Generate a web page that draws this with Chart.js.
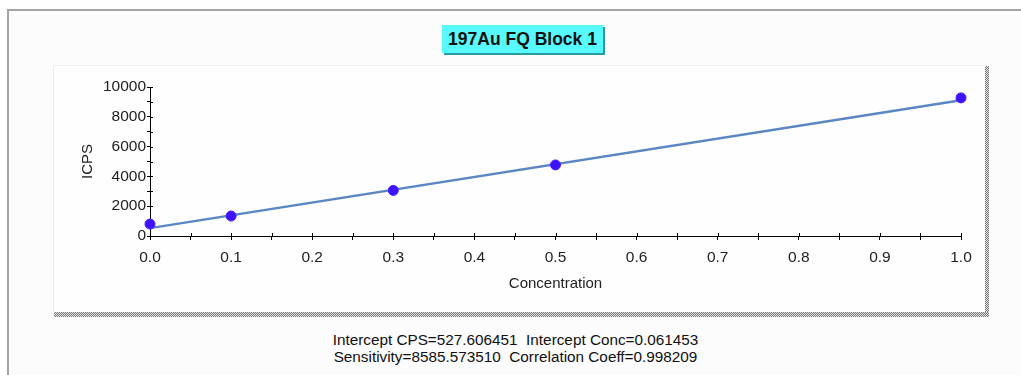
<!DOCTYPE html>
<html>
<head>
<meta charset="utf-8">
<script src="https://cdn.jsdelivr.net/npm/chart.js@4.4.1/dist/chart.umd.min.js"></script>
<style>
  html, body { margin:0; padding:0; background:#ffffff; width:1021px; height:375px; overflow:hidden; font-family:"Liberation Sans", Arial, sans-serif; }
  #outer { position:absolute; left:7px; top:9px; width:1030px; height:400px; background:#fcfcfc;
           border-left:2px solid #a4a4a4; border-top:2px solid #a4a4a4; box-sizing:border-box; }
  #inner { position:absolute; left:53px; top:65px; width:932px; height:247px; background:#fefefe;
           border-top:1px solid #ececec; border-left:1px solid #ececec; box-sizing:border-box; }
  .dots { position:absolute; background-color:#ddd;
          background-image:repeating-conic-gradient(#7a7a7a 0 25%, #e0e0e0 0 50%); background-size:2px 2px; }
  #titlebox { position:absolute; left:442px; top:25px; width:161px; height:28px; background:#58fbfd;
              box-shadow:2px 2px 0 #2a9a9c; font-weight:bold; font-size:17.5px; line-height:28px; text-align:center; color:#111; }
  #stats { position:absolute; left:0; width:1031px; top:331px; text-align:center; font-size:15.3px; line-height:17px; color:#111; }
  canvas { position:absolute; left:0; top:0; }
</style>
</head>
<body>
<div id="outer"></div>
<div id="inner"></div>
<div class="dots" style="left:985px; top:66px; width:4px; height:251px;"></div>
<div class="dots" style="left:54px; top:312px; width:935px; height:5px;"></div>
<div id="titlebox">197Au FQ Block 1</div>
<div id="stats">Intercept CPS=527.606451&nbsp;&nbsp;Intercept Conc=0.061453<br>Sensitivity=8585.573510&nbsp;&nbsp;Correlation Coeff=0.998209</div>
<canvas id="c" width="1021" height="375"></canvas>
<script>
// ---- data ----
const concentrations = [0.0, 0.1, 0.3, 0.5, 1.0];
const icps = [800, 1340, 3060, 4770, 9270];
const fitConc = [0.0, 1.0];
const fitIcps = [528, 9113];
const xTickLabels = ['0.0','0.1','0.2','0.3','0.4','0.5','0.6','0.7','0.8','0.9','1.0'];
const yTickLabels = ['0','2000','4000','6000','8000','10000'];
const chartTitle = '197Au FQ Block 1';
const xTitle = 'Concentration';
const yTitle = 'ICPS';

const FONT = '"Liberation Sans", Arial, sans-serif';

const innerTicks = {
  id: 'innerTicks',
  beforeDatasetsDraw(chart) {
    const ctx = chart.ctx, xs = chart.scales.x, ys = chart.scales.y;
    ctx.save();
    ctx.strokeStyle = '#000'; ctx.lineWidth = 1;
    ctx.beginPath();
    xs.ticks.forEach(t => { const px = Math.round(xs.getPixelForValue(t.value)) + 0.5;
      ctx.moveTo(px, ys.bottom); ctx.lineTo(px, ys.bottom - 3); });
    ys.ticks.forEach(t => { const py = Math.round(ys.getPixelForValue(t.value)) + 0.5;
      ctx.moveTo(xs.left, py); ctx.lineTo(xs.left + 3, py); });
    ctx.stroke();
    ctx.restore();
  }
};

new Chart(document.getElementById('c'), {
  type: 'scatter',
  data: {
    datasets: [
      {
        type: 'line',
        data: fitConc.map((x, i) => ({x, y: fitIcps[i]})),
        borderColor: '#5a86c4', borderWidth: 2.5, pointRadius: 0, fill: false, clip: false, order: 2
      },
      {
        data: concentrations.map((x, i) => ({x, y: icps[i]})),
        backgroundColor: '#3f12ff', borderColor: '#4a1cff', borderWidth: 1,
        pointRadius: 5, pointStyle: 'circle', clip: false, order: 1
      }
    ]
  },
  options: {
    responsive: false, animation: false, devicePixelRatio: 1,
    layout: { padding: { left: 70, right: 60, top: 87, bottom: 79 } },
    plugins: { legend: { display: false }, tooltip: { enabled: false }, title: { display: false } },
    scales: {
      x: {
        type: 'linear', min: 0, max: 1,
        afterFit(s) { s.height = 60; },
        border: { display: true, color: '#000', width: 1 },
        grid: { display: true, drawOnChartArea: false, drawTicks: true, tickLength: 4, color: '#000' },
        ticks: {
          stepSize: 0.05, padding: 8, color: '#222', font: { family: FONT, size: 15.5 }, maxRotation: 0, autoSkip: false,
          callback(v) { const k = Math.round(v * 100); return k % 10 === 0 ? xTickLabels[k / 10] : ''; }
        },
        title: { display: true, text: xTitle, color: '#222', font: { family: FONT, size: 15 }, padding: { top: 0, bottom: 3 } }
      },
      y: {
        type: 'linear', min: 0, max: 10000,
        afterFit(s) { s.width = 80; },
        border: { display: true, color: '#000', width: 1 },
        grid: { display: true, drawOnChartArea: false, drawTicks: true, tickLength: 3, color: '#000' },
        ticks: {
          stepSize: 1000, padding: 1, color: '#222', font: { family: FONT, size: 15.5 }, autoSkip: false,
          callback(v) { const k = Math.round(v / 1000); return k % 2 === 0 ? yTickLabels[k / 2] : ''; }
        },
        title: { display: true, text: yTitle, color: '#222', font: { family: FONT, size: 15 }, padding: { top: 9, bottom: 0 } }
      }
    }
  },
  plugins: [innerTicks]
});
</script>
</body>
</html>
